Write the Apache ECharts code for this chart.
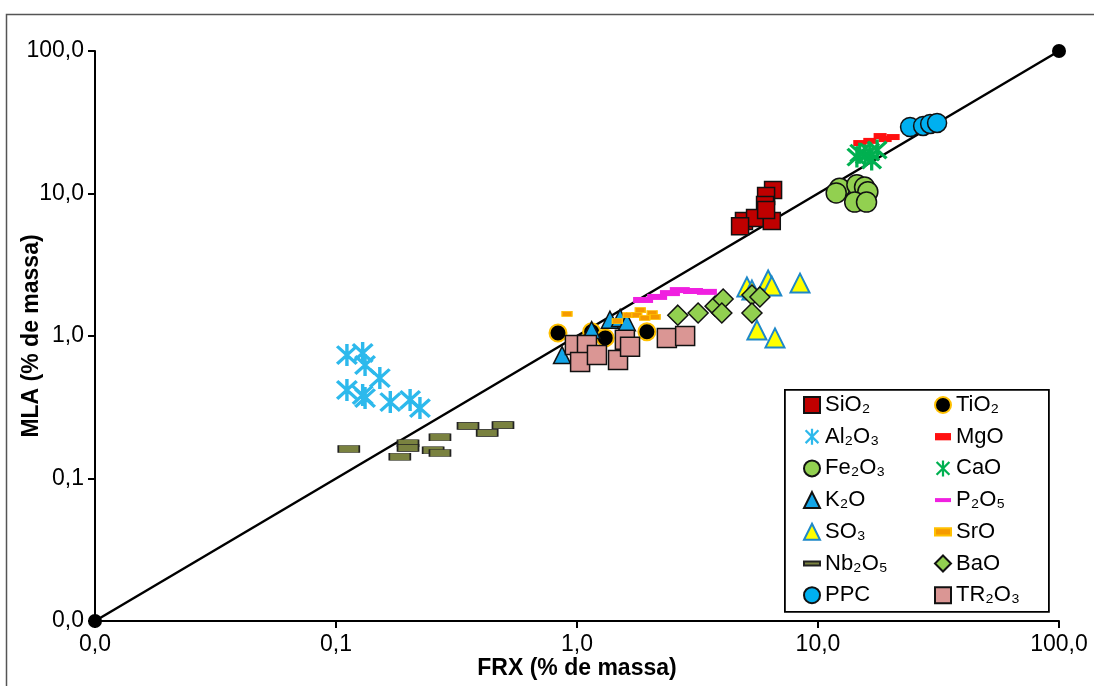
<!DOCTYPE html>
<html><head><meta charset="utf-8">
<script src="https://cdn.jsdelivr.net/npm/echarts@6/dist/echarts.min.js"></script>
<style>html,body{margin:0;padding:0;background:#fff}#c{width:1094px;height:686px}</style>
</head><body><div id="c"></div><script>
// ---- data ----
var seriesNames = ['SiO₂','TiO₂','Al₂O₃','MgO','Fe₂O₃','CaO','K₂O','P₂O₅','SO₃','SrO','Nb₂O₅','BaO','PPC','TR₂O₃'];
var legendCol1 = ['SiO₂','Al₂O₃','Fe₂O₃','K₂O','SO₃','Nb₂O₅','PPC'];
var legendCol2 = ['TiO₂','MgO','CaO','P₂O₅','SrO','BaO','TR₂O₃'];
var xAxisTitle = 'FRX (% de massa)';
var yAxisTitle = 'MLA (% de massa)';
var lineX = [0.01, 100];
var lineY = [0.01, 100];

var sio2X = [6.51, 6.09, 6.03, 4.93, 5.48, 6.43, 4.75, 6.09];
var sio2Y = [10.6, 9.6, 8.3, 6.4, 6.73, 6.4, 5.9, 7.66];
var tio2X = [0.834, 1.15, 1.31, 1.95];
var tio2Y = [1.05, 1.07, 0.97, 1.07];
var al2o3X = [0.111, 0.129, 0.132, 0.152, 0.111, 0.129, 0.132, 0.168, 0.203, 0.223];
var al2o3Y = [0.735, 0.76, 0.626, 0.507, 0.418, 0.385, 0.367, 0.344, 0.356, 0.312];
var mgoX = [14.9, 16.4, 18.1, 20.5, 19.0];
var mgoY = [22.6, 23.4, 25.3, 24.9, 24.1];
var fe2o3X = [12.3, 11.9, 14.5, 15.6, 16.1, 14.2, 15.9];
var fe2o3Y = [10.9, 10.1, 11.5, 11.1, 10.3, 8.7, 8.7];
var caoX = [14.5, 15.7, 16.4, 17.6, 16.7, 14.9];
var caoY = [18.0, 18.6, 19.5, 20.2, 17.2, 19.2];
var k2oX = [0.867, 1.15, 1.37, 1.51, 1.61];
var k2oY = [0.735, 1.10, 1.30, 1.34, 1.25];
var p2o5X = [1.88, 2.15, 2.43, 2.67, 3.03, 3.46];
var p2o5Y = [1.79, 1.88, 2.00, 2.10, 2.07, 2.04];
var so3X = [5.07, 5.32, 6.21, 6.43, 8.42, 5.58, 6.63];
var so3Y = [2.21, 2.10, 2.47, 2.24, 2.35, 1.10, 0.97];
var sroX = [0.909, 1.47, 1.63, 1.77, 1.83, 2.05, 2.11, 1.91];
var sroY = [1.43, 1.27, 1.40, 1.40, 1.52, 1.45, 1.36, 1.34];
var nb2o5X = [0.113, 0.199, 0.199, 0.184, 0.270, 0.253, 0.270, 0.353, 0.424, 0.493];
var nb2o5Y = [0.161, 0.177, 0.164, 0.142, 0.195, 0.158, 0.151, 0.234, 0.209, 0.237];
var baoX = [2.62, 3.18, 3.74, 4.04, 3.99, 5.32, 5.74, 5.32];
var baoY = [1.40, 1.45, 1.62, 1.82, 1.45, 1.94, 1.88, 1.45];
var ppcX = [24.1, 27.3, 29.2, 31.2];
var ppcY = [29.3, 29.8, 30.8, 31.3];
var tr2o3X = [0.98, 1.10, 1.03, 1.21, 1.48, 1.58, 1.66, 2.36, 2.81];
var tr2o3Y = [0.865, 0.865, 0.657, 0.735, 0.679, 0.94, 0.84, 0.97, 1.0];

// ---- helpers ----
function zip(xs, ys) { return xs.map(function (x, i) { return [x, ys[i]]; }); }
var FONT = 'Liberation Sans, Arial, sans-serif';
var STAR = 'path://M8.6,0L11.4,0L11.4,20L8.6,20Z M3,1L19,17L17,19L1,3Z M17,1L19,3L3,19L1,17Z';
var DASH4 = 'path://M0,0L4,0L4,1L0,1Z';
var DASH2 = 'path://M0,0L2.2,0L2.2,1L0,1Z';

function sc(name, xs, ys, symbol, size, fill, border, bw) {
  return {
    type: 'scatter', name: name, data: zip(xs, ys), symbol: symbol, symbolSize: size,
    itemStyle: { color: fill, borderColor: border || fill, borderWidth: bw || 0, opacity: 1 },
    emphasis: { disabled: true }, clip: false
  };
}

var series = [
  {
    type: 'line', name: 'diag', data: zip(lineX, lineY), symbol: 'circle', symbolSize: 14,
    itemStyle: { color: '#000' }, lineStyle: { color: '#000', width: 2.5 }, clip: false, z: 1,
    emphasis: { disabled: true }
  },
  sc(seriesNames[0], sio2X, sio2Y, 'rect', 17, '#C00000', '#111', 1.5),
  sc(seriesNames[1], tio2X, tio2Y, 'circle', 17, '#000', '#FFC000', 2),
  sc(seriesNames[2], al2o3X, al2o3Y, STAR, 22, '#2DB9EC'),
  sc(seriesNames[3], mgoX, mgoY, DASH2, [13, 6], '#FF1010'),
  sc(seriesNames[4], fe2o3X, fe2o3Y, 'circle', 20, '#92D050', '#111', 1.5),
  sc(seriesNames[5], caoX, caoY, STAR, 21, '#00B050'),
  sc(seriesNames[6], k2oX, k2oY, 'triangle', 17, '#12A5E8', '#111', 1.5),
  sc(seriesNames[7], p2o5X, p2o5Y, DASH4, [20, 6], '#F020E0'),
  sc(seriesNames[8], so3X, so3Y, 'triangle', 19, '#FFFF00', '#1E88C8', 2),
  sc(seriesNames[9], sroX, sroY, DASH2, [10, 5], '#F59A00', '#FFC000', 1),
  sc(seriesNames[10], nb2o5X, nb2o5Y, DASH4, [21, 7], '#7A8240', '#222', 1),
  sc(seriesNames[11], baoX, baoY, 'diamond', 20, '#92D050', '#111', 1.5),
  sc(seriesNames[12], ppcX, ppcY, 'circle', 19, '#00B0F0', '#111', 1.5),
  sc(seriesNames[13], tr2o3X, tr2o3Y, 'rect', 19, '#DA9694', '#111', 1.5)
];

function fmt(v) { return Number(v).toFixed(1).replace('.', ','); }

function axisOpt(name, gap, margin) {
  return {
    type: 'log', logBase: 10, min: 0.01, max: 100,
    name: name, nameGap: gap, nameLocation: 'middle', nameMoveOverlap: false,
    nameTextStyle: { color: '#000', fontSize: 23, fontWeight: 'bold', fontFamily: FONT },
    splitLine: { show: false }, minorTick: { show: false },
    axisLine: { show: true, lineStyle: { color: '#000', width: 2 } },
    axisTick: { show: true, inside: false, length: 7, lineStyle: { color: '#000', width: 2 } },
    axisLabel: { formatter: fmt, color: '#000', fontSize: 23, fontFamily: FONT, margin: margin,
                 hideOverlap: false }
  };
}

function legendOpt(data, left) {
  return {
    data: data, left: left, top: 394, padding: 0,
    orient: 'vertical', itemWidth: 16, itemHeight: 16, itemGap: 9.7, selectedMode: false,
    symbolKeepAspect: true,
    textStyle: { color: '#000', fontSize: 22, fontFamily: FONT, lineHeight: 22 }
  };
}

var option = {
  animation: false,
  backgroundColor: '#fff',
  grid: { left: 95, right: 35, top: 51, bottom: 65, containLabel: false, outerBoundsMode: 'none' },
  xAxis: axisOpt(xAxisTitle, 36, 12),
  yAxis: axisOpt(yAxisTitle, 52, 11),
  legend: [legendOpt(legendCol1, 803), legendOpt(legendCol2, 934)],
  graphic: [
    { type: 'rect', left: 4, top: 12, shape: { width: 1100, height: 700 }, silent: true, z: -10,
      style: { fill: 'none', stroke: '#555', lineWidth: 1.5 } },
    { type: 'rect', left: 784, top: 389, shape: { width: 264, height: 222 }, silent: true, z: 0,
      style: { fill: '#fff', stroke: '#000', lineWidth: 1.8 } }
  ],
  series: series
};

var chart = echarts.init(document.getElementById('c'), null, { renderer: 'canvas' });
chart.setOption(option);
</script></body></html>
